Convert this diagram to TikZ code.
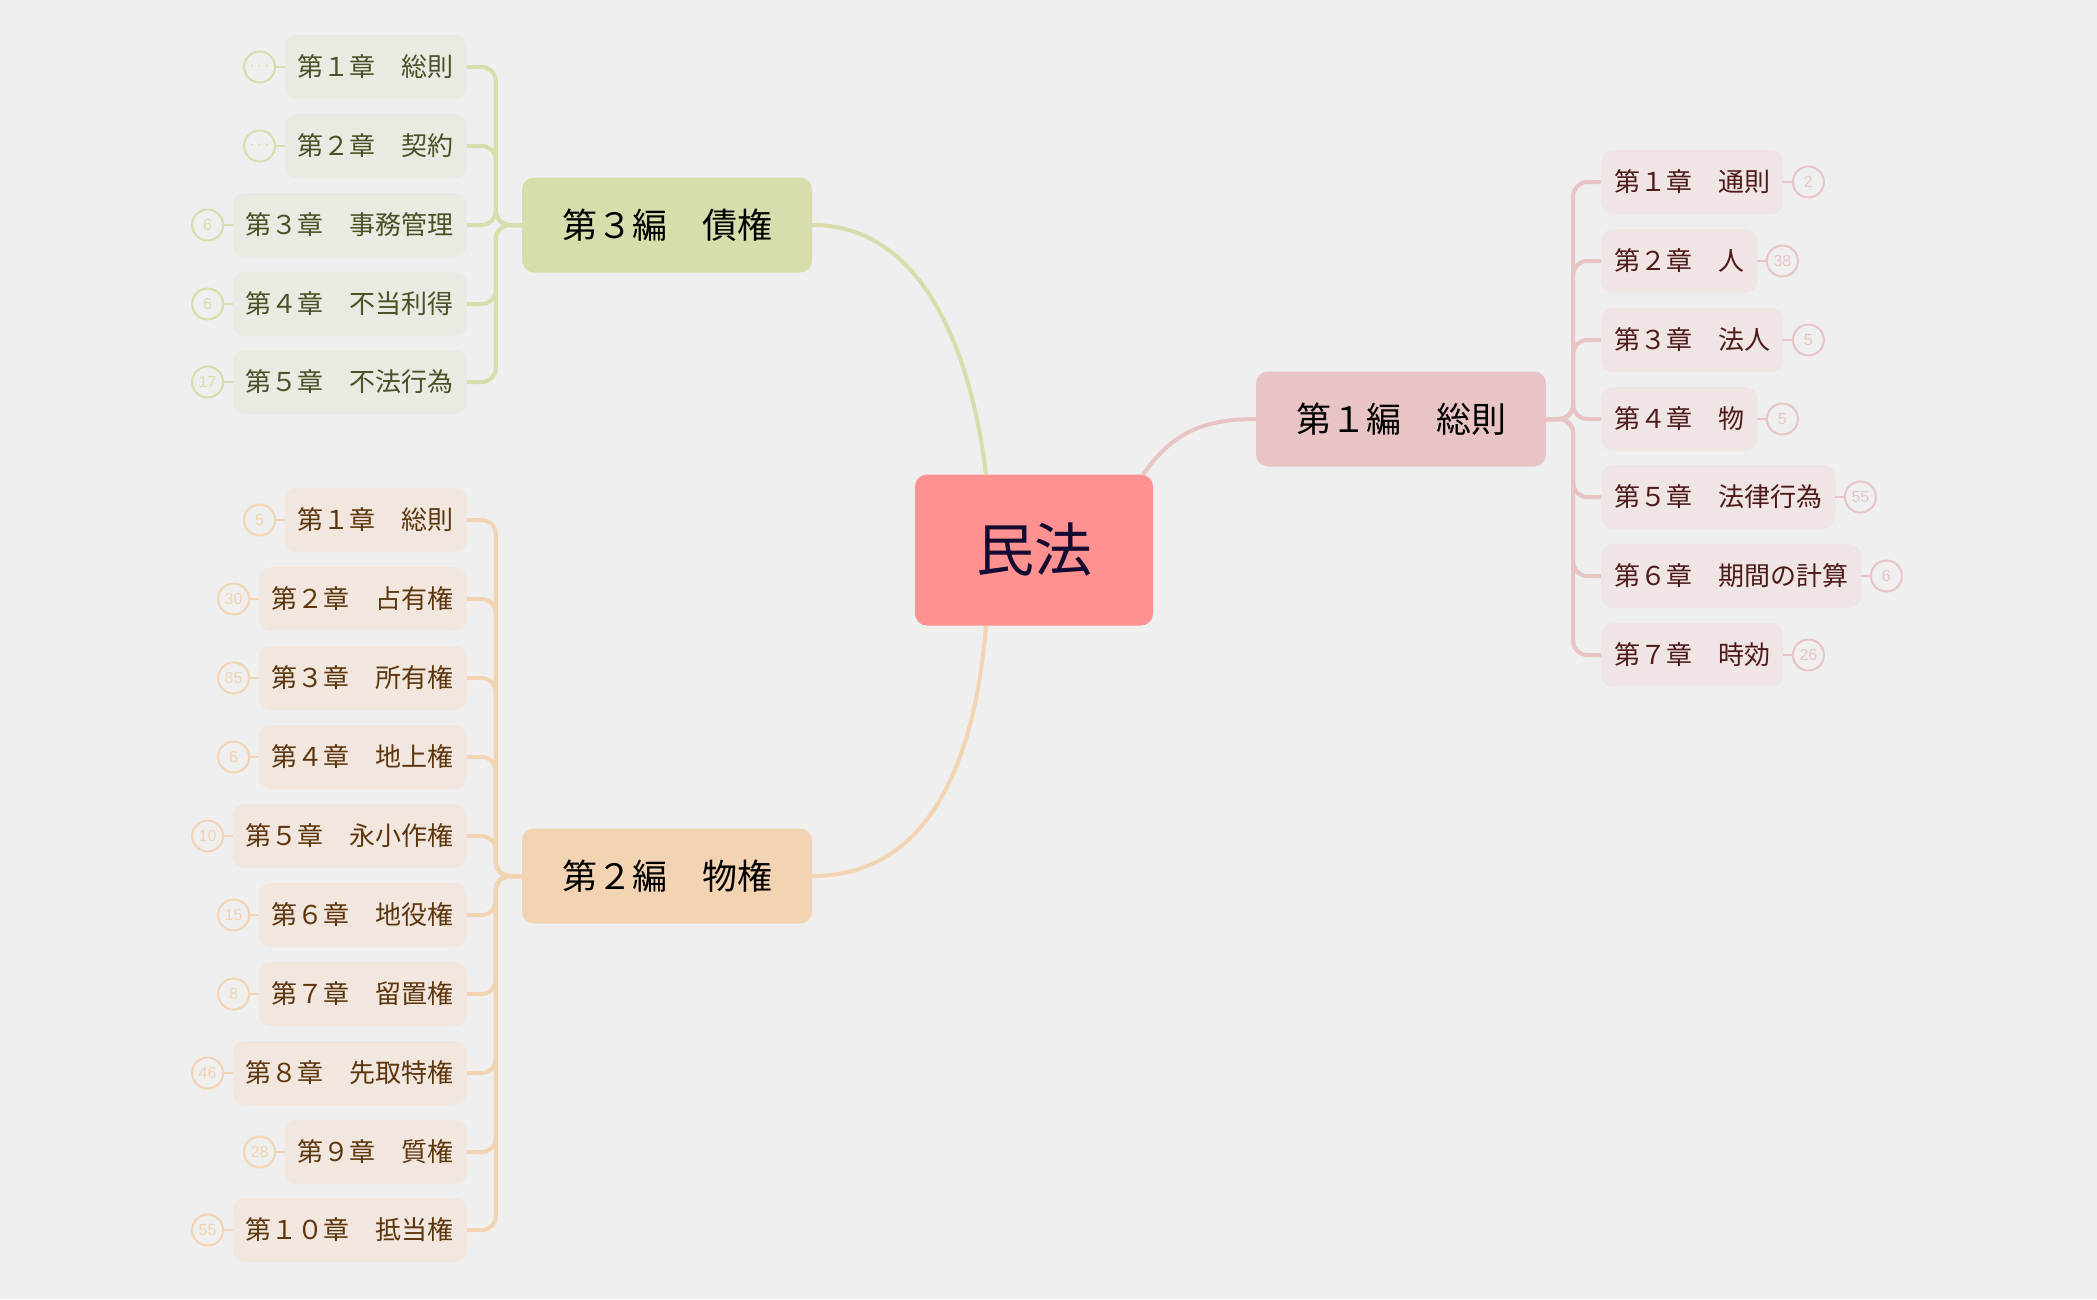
\documentclass[tikz,border=0pt]{standalone}
\usepackage{fontspec}
\setmainfont{Noto Sans CJK JP}
\newfontfamily\numfont{Liberation Sans}
\begin{document}
\begin{tikzpicture}[x=1pt,y=-1pt,
  chbox/.style={rounded corners=12pt, inner xsep=13pt, minimum height=64pt, font=\fontsize{26}{30}\selectfont},
  hen/.style={rounded corners=12pt, minimum width=290pt, minimum height=95pt, font=\fontsize{35}{40}\selectfont},
  numc/.style={circle, draw, line width=2pt, minimum size=31pt, inner sep=0pt, font=\numfont\fontsize{16}{18}\selectfont},
  link/.style={line width=4pt, rounded corners=14pt}]
\definecolor{bg}{HTML}{EFEFEF}
\definecolor{rline}{HTML}{E8C4C4}\definecolor{rfill}{HTML}{EEE5E4}\definecolor{rtext}{HTML}{4E1A1A}
\definecolor{gline}{HTML}{D9DCAB}\definecolor{gfill}{HTML}{E9EAE2}\definecolor{gtext}{HTML}{4A5126}
\definecolor{oline}{HTML}{F3D4B2}\definecolor{ofill}{HTML}{F1E7DE}\definecolor{otext}{HTML}{5E360E}
\fill[bg] (0,0) rectangle (2097,1299);
\useasboundingbox (0,0) rectangle (2097,1299);
% main nodes
\node[rounded corners=12pt, fill=red!45!white, fill={rgb,255:red,255;green,145;blue,145}, minimum width=238pt, minimum height=151pt, text={rgb,255:red,20;green,10;blue,50}, font=\fontsize{58}{64}\selectfont] (root) at (1034,550) {民法};
\node[hen, fill=rline] (h1) at (1401,419) {第１編　総則};
\node[hen, fill=gline] (h3) at (667,225) {第３編　債権};
\node[hen, fill=oline] (h2) at (667,876) {第２編　物権};
\draw[line width=4pt, rline] (1143,475) .. controls (1172,432) and (1205,419) .. (h1.west);
\draw[line width=4pt, gline] (986,475) .. controls (975,380) and (935,225) .. (h3.east);
\draw[line width=4pt, oline] (986,626) .. controls (975,760) and (930,876) .. (h2.east);
% right chapters
\foreach \i/\y/\t/\n in {1/182/第１章　通則/2, 2/261/第２章　人/38, 3/340/第３章　法人/5, 4/419/第４章　物/5, 5/497/第５章　法律行為/55, 6/576/第６章　期間の計算/6, 7/655/第７章　時効/26}{
  \node[chbox, fill=rfill, text=rtext, anchor=west] (r\i) at (1601,\y) {\t};
  \node[numc, draw=rline, text=rline] (rn\i) at ([xshift=25pt]r\i.east) {\n};
  \draw[line width=2.5pt, rline] (r\i.east) -- (rn\i.west);
  \draw[link, rline] (h1.east) -- ++(27,0) |- (r\i.west);
}
% left chapters (3編)
\foreach \i/\y/\t/\n in {1/67/第１章　総則/{$\cdots$}, 2/146/第２章　契約/{$\cdots$}, 3/225/第３章　事務管理/6, 4/304/第４章　不当利得/6, 5/382/第５章　不法行為/17}{
  \node[chbox, fill=gfill, text=gtext, anchor=east] (g\i) at (467,\y) {\t};
  \node[numc, draw=gline, text=gline] (gn\i) at ([xshift=-25pt]g\i.west) {\n};
  \draw[line width=2.5pt, gline] (g\i.west) -- (gn\i.east);
  \draw[link, gline] (h3.west) -- ++(-26,0) |- (g\i.east);
}
% left chapters (2編)
\foreach \i/\y/\t/\n in {1/520/第１章　総則/5, 2/599/第２章　占有権/30, 3/678/第３章　所有権/85, 4/757/第４章　地上権/6, 5/836/第５章　永小作権/10, 6/915/第６章　地役権/15, 7/994/第７章　留置権/8, 8/1073/第８章　先取特権/46, 9/1152/第９章　質権/28, 10/1230/第１０章　抵当権/55}{
  \node[chbox, fill=ofill, text=otext, anchor=east] (o\i) at (467,\y) {\t};
  \node[numc, draw=oline, text=oline] (on\i) at ([xshift=-25pt]o\i.west) {\n};
  \draw[line width=2.5pt, oline] (o\i.west) -- (on\i.east);
  \draw[link, oline] (h2.west) -- ++(-26,0) |- (o\i.east);
}
\end{tikzpicture}
\end{document}
